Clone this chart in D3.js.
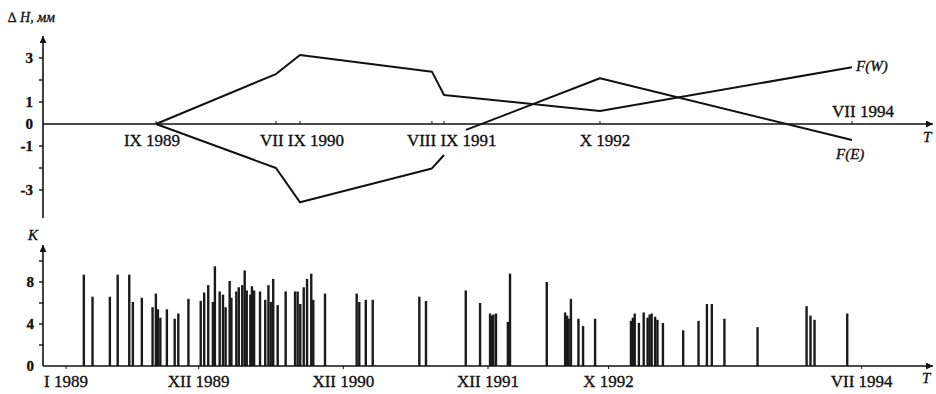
<!DOCTYPE html>
<html>
<head>
<meta charset="utf-8">
<script src="https://cdn.jsdelivr.net/npm/d3@7"></script>
<style>
  body { margin: 0; background: #fff; }
  svg { display: block; }
  text { font-family: "Liberation Serif", "DejaVu Serif", serif; fill: #111; stroke: #111; stroke-width: 0.35px; }
</style>
</head>
<body>
<div id="chart"></div>
<script>
// ---- data (time in decimal years) ----
// upper panel: ΔH, mm
const fwTimes  = [1989.667, 1990.5, 1990.667, 1991.583, 1991.667, 1992.75, 1994.5];
const fwValues = [0, 2.27, 3.14, 2.38, 1.32, 0.59, 2.58];
// F(E) is broken under the "IX 1991" label (null = gap)
const feTimes  = [1989.667, 1990.5, 1990.667, 1991.583, 1991.667, 1991.7, 1991.82, 1992.75, 1994.5];
const feValues = [0, -2.0, -3.56, -2.02, -1.41, null, -0.27, 2.08, -0.73];

const topTicks  = [1989.667, 1990.5, 1990.667, 1991.583, 1991.667, 1992.75, 1994.5];
const topLabelTimes = [1989.667, 1990.5, 1991.583, 1992.75];
const topLabels = ["IX 1989", "VII IX 1990", "VIII IX 1991", "X 1992"];
const hTicks  = [3, 2, 1, 0, -1, -2, -3];
const hLabels = ["3", "", "1", "0", "-1", "", "-3"];

// lower panel: K per event
const kTimes = [
  1989.123, 1989.183, 1989.303, 1989.357, 1989.437, 1989.462, 1989.524, 1989.598, 1989.621, 1989.635,
  1989.652, 1989.697, 1989.751, 1989.776, 1989.846, 1989.931, 1989.955, 1989.983, 1990.015, 1990.029,
  1990.062, 1990.085, 1990.103, 1990.131, 1990.143, 1990.177, 1990.194, 1990.218, 1990.235, 1990.249,
  1990.274, 1990.285, 1990.300, 1990.341, 1990.377, 1990.399, 1990.415, 1990.432, 1990.463, 1990.518,
  1990.583, 1990.601, 1990.619, 1990.643, 1990.666, 1990.695, 1990.709, 1990.790, 1991.009, 1991.027,
  1991.072, 1991.120, 1991.442, 1991.488, 1991.763, 1991.862, 1991.931, 1991.943, 1991.954, 1991.972,
  1992.054, 1992.069, 1992.323, 1992.450, 1992.464, 1992.474, 1992.490, 1992.542, 1992.574, 1992.657,
  1992.905, 1992.918, 1992.931, 1992.960, 1992.993, 1993.020, 1993.034, 1993.048, 1993.072, 1993.088,
  1993.126, 1993.266, 1993.372, 1993.430, 1993.464, 1993.551, 1993.780, 1994.119, 1994.146, 1994.174,
  1994.400
];
const kValues = [
  8.7, 6.6, 6.6, 8.7, 8.7, 6.1, 6.5, 5.6, 6.9, 5.4,
  4.6, 5.4, 4.5, 5.0, 6.4, 6.2, 7.0, 7.7, 6.1, 9.5,
  7.1, 6.8, 5.6, 8.1, 6.5, 7.1, 7.5, 7.7, 9.1, 7.2,
  6.8, 7.6, 7.2, 7.1, 6.3, 7.7, 6.1, 8.3, 5.8, 7.1,
  7.1, 7.1, 5.9, 7.5, 8.3, 8.8, 6.3, 6.9, 6.9, 6.1,
  6.3, 6.3, 6.6, 6.2, 7.2, 6.0, 5.0, 4.8, 4.9, 5.0,
  4.2, 8.8, 8.0, 5.1, 4.8, 4.5, 6.4, 4.5, 3.8, 4.5,
  4.3, 4.6, 5.0, 4.1, 5.1, 4.6, 4.9, 5.0, 4.7, 4.4,
  4.1, 3.4, 4.3, 5.9, 5.9, 4.5, 3.7, 5.7, 4.8, 4.4,
  5.0
];
const bottomTicks  = [1989.0, 1989.917, 1990.917, 1991.917, 1992.75, 1994.5];
const bottomLabels = ["I 1989", "XII 1989", "XII 1990", "XII 1991", "X 1992", "VII 1994"];
const kTicks  = [0, 2, 4, 6, 8, 10];
const kLabels = ["0", "", "4", "", "8", ""];

// ---- drawing ----
const width = 936, height = 394;
const axisX = 43, axisEnd = 933;

const svg = d3.select("#chart").append("svg")
  .attr("width", width)
  .attr("height", height);

const defs = svg.append("defs");
defs.append("marker")
  .attr("id", "arrow")
  .attr("viewBox", "0 0 10 10")
  .attr("refX", 10).attr("refY", 5)
  .attr("markerWidth", 9).attr("markerHeight", 7)
  .attr("markerUnits", "userSpaceOnUse")
  .attr("orient", "auto")
  .append("path")
  .attr("d", "M0,0 L10,5 L0,10 Z")
  .attr("fill", "#111");

// upper panel scales
const xTop = d3.scaleLinear().domain([1989.667, 1994.5]).range([156, 852]);
const yTop = d3.scaleLinear().domain([-4, 4]).range([212, 36]);

// axes
svg.append("line")
  .attr("x1", axisX).attr("x2", axisX)
  .attr("y1", 218).attr("y2", 36)
  .attr("stroke", "#111").attr("stroke-width", 1.6)
  .attr("marker-end", "url(#arrow)");
svg.append("line")
  .attr("x1", axisX).attr("x2", axisEnd)
  .attr("y1", yTop(0)).attr("y2", yTop(0))
  .attr("stroke", "#111").attr("stroke-width", 1.6)
  .attr("marker-end", "url(#arrow)");

svg.selectAll("line.htick")
  .data(hTicks.filter(d => d !== 0))
  .enter().append("line")
  .attr("class", "htick")
  .attr("x1", axisX - 4).attr("x2", axisX)
  .attr("y1", d => yTop(d)).attr("y2", d => yTop(d))
  .attr("stroke", "#111").attr("stroke-width", 1.4);

svg.selectAll("text.hlab")
  .data(hTicks)
  .enter().append("text")
  .attr("class", "hlab")
  .attr("x", axisX - 10)
  .attr("y", d => yTop(d) + 5)
  .attr("text-anchor", "end")
  .style("font-size", "15px")
  .style("font-weight", "bold")
  .text((d, i) => hLabels[i]);

svg.selectAll("line.ttick")
  .data(topTicks)
  .enter().append("line")
  .attr("class", "ttick")
  .attr("x1", d => xTop(d)).attr("x2", d => xTop(d))
  .attr("y1", yTop(0) - 3).attr("y2", yTop(0))
  .attr("stroke", "#111").attr("stroke-width", 1);

const topAnchor = ["middle", "start", "start", "middle"];
const topShift = [-4, -16, -25, 5];
svg.selectAll("text.tlab")
  .data(topLabelTimes)
  .enter().append("text")
  .attr("class", "tlab")
  .attr("x", (d, i) => xTop(d) + topShift[i])
  .attr("y", yTop(0) + 22)
  .attr("text-anchor", (d, i) => topAnchor[i])
  .style("font-size", "17px")
  .text((d, i) => topLabels[i]);

svg.append("text")
  .attr("x", xTop(1994.5) + 11)
  .attr("y", yTop(0) - 7)
  .attr("text-anchor", "middle")
  .style("font-size", "17px")
  .text("VII 1994");

// curves
const line = d3.line()
  .defined(d => d[1] !== null)
  .x(d => xTop(d[0]))
  .y(d => yTop(d[1]));

svg.append("path")
  .datum(fwTimes.map((t, i) => [t, fwValues[i]]))
  .attr("d", line)
  .attr("fill", "none").attr("stroke", "#111").attr("stroke-width", 2)
  .attr("stroke-linejoin", "round");
svg.append("path")
  .datum(feTimes.map((t, i) => [t, feValues[i]]))
  .attr("d", line)
  .attr("fill", "none").attr("stroke", "#111").attr("stroke-width", 2)
  .attr("stroke-linejoin", "round");

svg.append("text")
  .attr("x", xTop(1994.5) + 4).attr("y", yTop(fwValues[6]) + 4)
  .style("font-size", "15px").style("font-style", "italic")
  .text("F(W)");
svg.append("text")
  .attr("x", xTop(1994.5) - 16).attr("y", yTop(feValues[8]) + 19)
  .style("font-size", "15px").style("font-style", "italic")
  .text("F(E)");

svg.append("text")
  .attr("x", 8).attr("y", 22)
  .style("font-size", "14px").style("font-style", "italic")
  .text("\u2206 H, мм");
svg.append("text")
  .attr("x", 923).attr("y", yTop(0) + 18)
  .style("font-size", "15px").style("font-style", "italic")
  .text("T");

// lower panel scales
const xBot = d3.scaleLinear().domain([1989.917, 1994.5]).range([198.7, 861.7]);
const yBot = d3.scaleLinear().domain([0, 10]).range([366, 261]);

svg.append("line")
  .attr("x1", axisX).attr("x2", axisX)
  .attr("y1", yBot(0)).attr("y2", 245)
  .attr("stroke", "#111").attr("stroke-width", 1.6)
  .attr("marker-end", "url(#arrow)");

svg.selectAll("line.bar")
  .data(kTimes)
  .enter().append("line")
  .attr("class", "bar")
  .attr("x1", d => xBot(d)).attr("x2", d => xBot(d))
  .attr("y1", yBot(0))
  .attr("y2", (d, i) => yBot(kValues[i]))
  .attr("stroke", "#1a1a1a").attr("stroke-width", 2.4);

svg.append("line")
  .attr("x1", axisX).attr("x2", axisEnd)
  .attr("y1", yBot(0)).attr("y2", yBot(0))
  .attr("stroke", "#111").attr("stroke-width", 1.6)
  .attr("marker-end", "url(#arrow)");

svg.selectAll("line.ktick")
  .data(kTicks.filter(d => d !== 0))
  .enter().append("line")
  .attr("class", "ktick")
  .attr("x1", axisX - 4).attr("x2", axisX)
  .attr("y1", d => yBot(d)).attr("y2", d => yBot(d))
  .attr("stroke", "#111").attr("stroke-width", 1.4);

svg.selectAll("text.klab")
  .data(kTicks)
  .enter().append("text")
  .attr("class", "klab")
  .attr("x", axisX - 9)
  .attr("y", d => yBot(d) + 5)
  .attr("text-anchor", "end")
  .style("font-size", "15px")
  .style("font-weight", "bold")
  .text((d, i) => kLabels[i]);

svg.selectAll("line.btick")
  .data(bottomTicks)
  .enter().append("line")
  .attr("class", "btick")
  .attr("x1", d => xBot(d)).attr("x2", d => xBot(d))
  .attr("y1", yBot(0)).attr("y2", yBot(0) + 3)
  .attr("stroke", "#111").attr("stroke-width", 1);

svg.selectAll("text.blab")
  .data(bottomTicks)
  .enter().append("text")
  .attr("class", "blab")
  .attr("x", d => xBot(d))
  .attr("y", yBot(0) + 21)
  .attr("text-anchor", "middle")
  .style("font-size", "17px")
  .text((d, i) => bottomLabels[i]);

svg.append("text")
  .attr("x", 28).attr("y", 240)
  .style("font-size", "15px").style("font-style", "italic")
  .text("К");
svg.append("text")
  .attr("x", 922).attr("y", yBot(0) + 17)
  .style("font-size", "15px").style("font-style", "italic")
  .text("T");
</script>
</body>
</html>
